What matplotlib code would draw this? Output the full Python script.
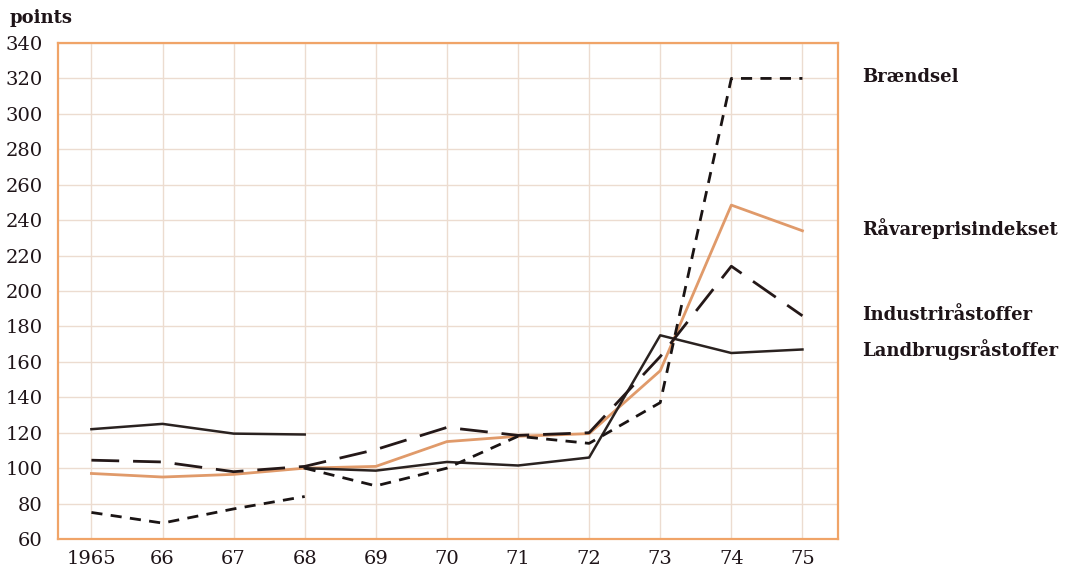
import matplotlib
matplotlib.use("Agg")
import matplotlib.pyplot as plt

# data (index points)
years_early = [1965, 1966, 1967, 1968]
years_late = [1968, 1969, 1970, 1971, 1972, 1973, 1974, 1975]
years_all = years_early + years_late[1:]

braendsel_early = [75, 69, 77, 84]
braendsel_late = [100, 90, 100, 118, 114, 137, 320, 320]

landbrug_early = [122, 125, 119.5, 119]
landbrug_late = [100, 98.6, 103.5, 101.5, 106, 175, 165, 167]

industri = [104.5, 103.5, 98, 101, 110.5, 123, 118.5, 120, 163, 214, 186]
raavare = [97, 95, 96.5, 100, 101, 115, 118, 119.5, 155, 248.5, 234]

xlabels = ["1965", "66", "67", "68", "69", "70", "71", "72", "73", "74", "75"]
yticks = list(range(60, 341, 20))

plt.rcParams['font.family'] = ['DejaVu Serif']
text_col = "#1e1418"

fig = plt.figure(figsize=(10.76, 5.71), dpi=100)
ax = fig.add_axes([0.0539, 0.056, 0.7249, 0.8687])

ax.plot(years_all, raavare, color="#e09a6a", lw=2.0, zorder=3)
ax.plot(years_early, landbrug_early, color="#2a2220", lw=1.8, zorder=4)
ax.plot(years_late, landbrug_late, color="#2a2220", lw=1.8, zorder=4)
ax.plot(years_all, industri, color="#241818", lw=2.0, dashes=(10, 5), zorder=4)
ax.plot(years_early, braendsel_early, color="#1a1414", lw=2.0, dashes=(4, 3), zorder=4)
ax.plot(years_late, braendsel_late, color="#1a1414", lw=2.0, dashes=(4, 3), zorder=4)

ax.set_xlim(1964.53, 1975.5)
ax.set_ylim(60, 340)
ax.set_xticks(years_all)
ax.set_xticklabels(xlabels)
ax.set_yticks(yticks)
ax.grid(True, color="#ecdcd0", lw=1.0, zorder=0)
ax.tick_params(length=0, labelsize=14, labelcolor=text_col)
ax.tick_params(axis='y', pad=11)
ax.tick_params(axis='x', pad=8)
for s in ax.spines.values():
    s.set_color("#f0a468")
    s.set_linewidth(1.6)

fig.text(0.009, 0.968, "points", fontsize=13, fontweight="bold", color=text_col, va="center")

labels = [("Brændsel", 77), ("Råvareprisindekset", 229),
          ("Industriråstoffer", 315), ("Landbrugsråstoffer", 350)]
for name, ypx in labels:
    fig.text(862 / 1076, 1 - ypx / 571, name, fontsize=13, fontweight="bold",
             color=text_col, va="center", ha="left")

fig.savefig("out.png", dpi=100)
